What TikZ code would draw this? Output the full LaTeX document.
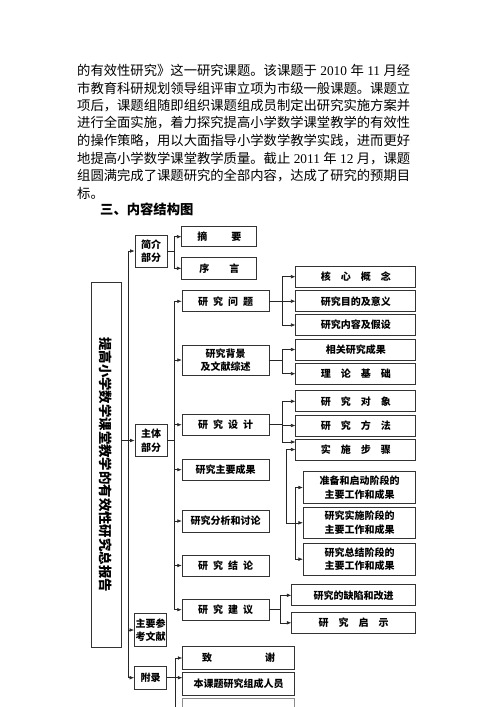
\documentclass[tikz,border=0pt]{standalone}
\usepackage{fontspec}
\setmainfont{Liberation Serif}
\newfontfamily\cjk{Noto Sans CJK SC}
\usetikzlibrary{arrows.meta, calc, positioning}
\newcommand{\boxfont}{\cjk\bfseries\fontsize{10pt}{13.5pt}\selectfont}
\newcommand{\bodyfont}{\cjk\fontsize{13.32pt}{17.6pt}\selectfont}
\newcommand{\westNum}[1]{{\rmfamily #1}}
\tikzset{
    partBox/.style={rectangle, draw=black!80, line width=0.7pt, inner sep=0pt, align=center, font=\boxfont},
    titleBox/.style={partBox, minimum width=30pt, minimum height=365pt},
    sideBox/.style={partBox, minimum width=32pt, minimum height=32pt},
    midBox/.style={partBox, minimum width=87pt, minimum height=21pt},
    leafBox/.style={partBox, minimum width=120pt, minimum height=21pt},
    stageBox/.style={partBox, minimum width=112.4pt, minimum height=31.5pt},
    textLine/.style={anchor=west, inner sep=0pt, font=\bodyfont},
    reoLine/.style={line width=0.6pt, black!85},
    reoEdge/.style={->, >={Latex[length=4.5pt, width=3.6pt]}, line width=0.6pt, black!85},
}
% fork: start point, spine coordinate, list of targets
\newcommand{\drawFork}[3]{
    \draw[reoLine] (#1) -- (#1 -| #2);
    \foreach \c in {#3} {\draw[reoEdge] (#1 -| #2) |- (\c);}
}
\begin{document}
\begin{tikzpicture}[x=1pt, y=-1pt]
    \clip (0,0) rectangle (500,707);
    \fill[white] (0,0) rectangle (500,707);

    % paragraph
    \node[textLine] (line1) at (77,70) {\makebox[333pt][s]{的有效性研究》这一研究课题。该课题于 \westNum{2010} 年 \westNum{11} 月经}};
    \node[textLine] (line2) at (77,88) {市教育科研规划领导组评审立项为市级一般课题。课题立};
    \node[textLine] (line3) at (77,105.5) {项后，课题组随即组织课题组成员制定出研究实施方案并};
    \node[textLine] (line4) at (77,123) {进行全面实施，着力探究提高小学数学课堂教学的有效性};
    \node[textLine] (line5) at (77,141) {的操作策略，用以大面指导小学数学教学实践，进而更好};
    \node[textLine] (line6) at (77,158.5) {\makebox[333pt][s]{地提高小学数学课堂教学质量。截止 \westNum{2011} 年 \westNum{12} 月，课题}};
    \node[textLine] (line7) at (77,176) {组圆满完成了课题研究的全部内容，达成了研究的预期目};
    \node[textLine] (line8) at (77,193.5) {标。};
    \node[textLine, font=\bodyfont\bfseries] (heading) at (100,209.5) {三、内容结构图};

    % spines
    \coordinate (spA) at (128,0);
    \coordinate (spB) at (174.3,0);
    \coordinate (spC) at (282.3,0);
    \coordinate (spD) at (295,0);
    \coordinate (spE) at (286,0);
    \coordinate (spF) at (280,0);
    \coordinate (spG) at (175,0);

    % title and first level
    \node[titleBox] (title) at (106,464.5) {\rotatebox{-90}{\cjk\bfseries\fontsize{13.4pt}{14pt}\selectfont 提高小学数学课堂教学的有效性研究总报告}};
    \node[sideBox] (jianjie) at (151,251) {简介\\部分};
    \node[sideBox] (zhuti) at (151,440.5) {主体\\部分};
    \node[sideBox, minimum height=33.5pt] (cankao) at (150.5,630) {主要参\\考文献};
    \node[sideBox, minimum height=23pt] (fulu) at (150.5,677.7) {附录};

    % introduction
    \node[partBox, minimum width=75pt, minimum height=20pt] (zhaiyao) at (219.3,236.7) {摘\hspace{2.4em}要};
    \node[partBox, minimum width=75pt, minimum height=22pt] (xuyan) at (219.3,268.3) {序\hspace{2em}言};

    % main part
    \node[midBox] (wenti) at (225.6,301.3) {研\enspace 究\enspace 问\enspace 题};
    \node[midBox, minimum height=30pt] (beijing) at (225.6,360) {研究背景\\及文献综述};
    \node[midBox] (sheji) at (225.6,424.7) {研\enspace 究\enspace 设\enspace 计};
    \node[midBox] (chengguo) at (225.6,469.7) {研究主要成果};
    \node[midBox, minimum height=21.7pt] (fenxi) at (225.6,521) {研究分析和讨论};
    \node[midBox] (jielun) at (225.6,565.5) {研\enspace 究\enspace 结\enspace 论};
    \node[midBox] (jianyi) at (225.6,609.7) {研\enspace 究\enspace 建\enspace 议};

    \node[leafBox] (gainian) at (355.8,276.7) {核\quad 心\quad 概\quad 念};
    \node[leafBox] (yiyi) at (355.8,301.2) {研究目的及意义};
    \node[leafBox] (jiashe) at (355.8,325) {研究内容及假设};
    \node[leafBox] (xiangguan) at (355.8,349.5) {相关研究成果};
    \node[leafBox] (lilun) at (355.8,373.7) {理\quad 论\quad 基\quad 础};
    \node[leafBox] (duixiang) at (355.8,401.3) {研\quad 究\quad 对\quad 象};
    \node[leafBox] (fangfa) at (355.8,425.5) {研\quad 究\quad 方\quad 法};
    \node[leafBox] (buzhou) at (355.8,449.5) {实\quad 施\quad 步\quad 骤};
    \coordinate (buzhouIn) at ([yshift=7.5pt]buzhou.west);

    \node[stageBox] (zhunbei) at (359.5,487.5) {准备和启动阶段的\\主要工作和成果};
    \node[stageBox] (shishi) at (359.5,522.8) {研究实施阶段的\\主要工作和成果};
    \node[stageBox] (zongjie) at (359.5,559.2) {研究总结阶段的\\主要工作和成果};

    \node[leafBox, minimum width=124pt] (quexian) at (353.7,595.3) {研究的缺陷和改进};
    \node[leafBox, minimum width=124pt] (qishi) at (353.7,622.8) {研\quad 究\quad 启\quad 示};

    % appendix
    \node[partBox, minimum width=111.6pt, minimum height=22.6pt] (zhixie) at (238.5,658) {致\hspace{5.3em}谢};
    \node[partBox, minimum width=111.6pt, minimum height=22.3pt] (renyuan) at (238.5,683.8) {本课题研究组成人员};
    \node[partBox, draw=black!45, minimum width=111.6pt, minimum height=27.4pt] (fujian) at (238.5,712) {};
    \coordinate (renyuanIn) at (renyuan.west |- fulu.east);

    % connectors
    \coordinate (titleOut) at (title.east |- zhuti.west);
    \drawFork{titleOut}{spA}{jianjie.west, zhuti.west, cankao.west, fulu.west}
    \drawFork{jianjie.east}{spB}{zhaiyao.west, xuyan.west}
    \drawFork{zhuti.east}{spB}{wenti.west, beijing.west, sheji.west, chengguo.west, fenxi.west, jielun.west, jianyi.west}
    \drawFork{wenti.east}{spC}{gainian.west, yiyi.west, jiashe.west}
    \drawFork{beijing.east}{spC}{xiangguan.west, lilun.west}
    \drawFork{sheji.east}{spC}{duixiang.west, fangfa.west, buzhouIn}
    \drawFork{jianyi.east}{spF}{quexian.west, qishi.west}
    \drawFork{fulu.east}{spG}{zhixie.west, renyuanIn, fujian.west}

    \draw[reoEdge] (spE |- shishi.west) |- (buzhou.west);
    \draw[reoEdge] (spE |- shishi.west) -- (shishi.west);
    \draw[reoEdge] (spD |- shishi.west) |- (zhunbei.west);
    \draw[reoEdge] (spD |- shishi.west) |- (zongjie.west);
\end{tikzpicture}
\end{document}
